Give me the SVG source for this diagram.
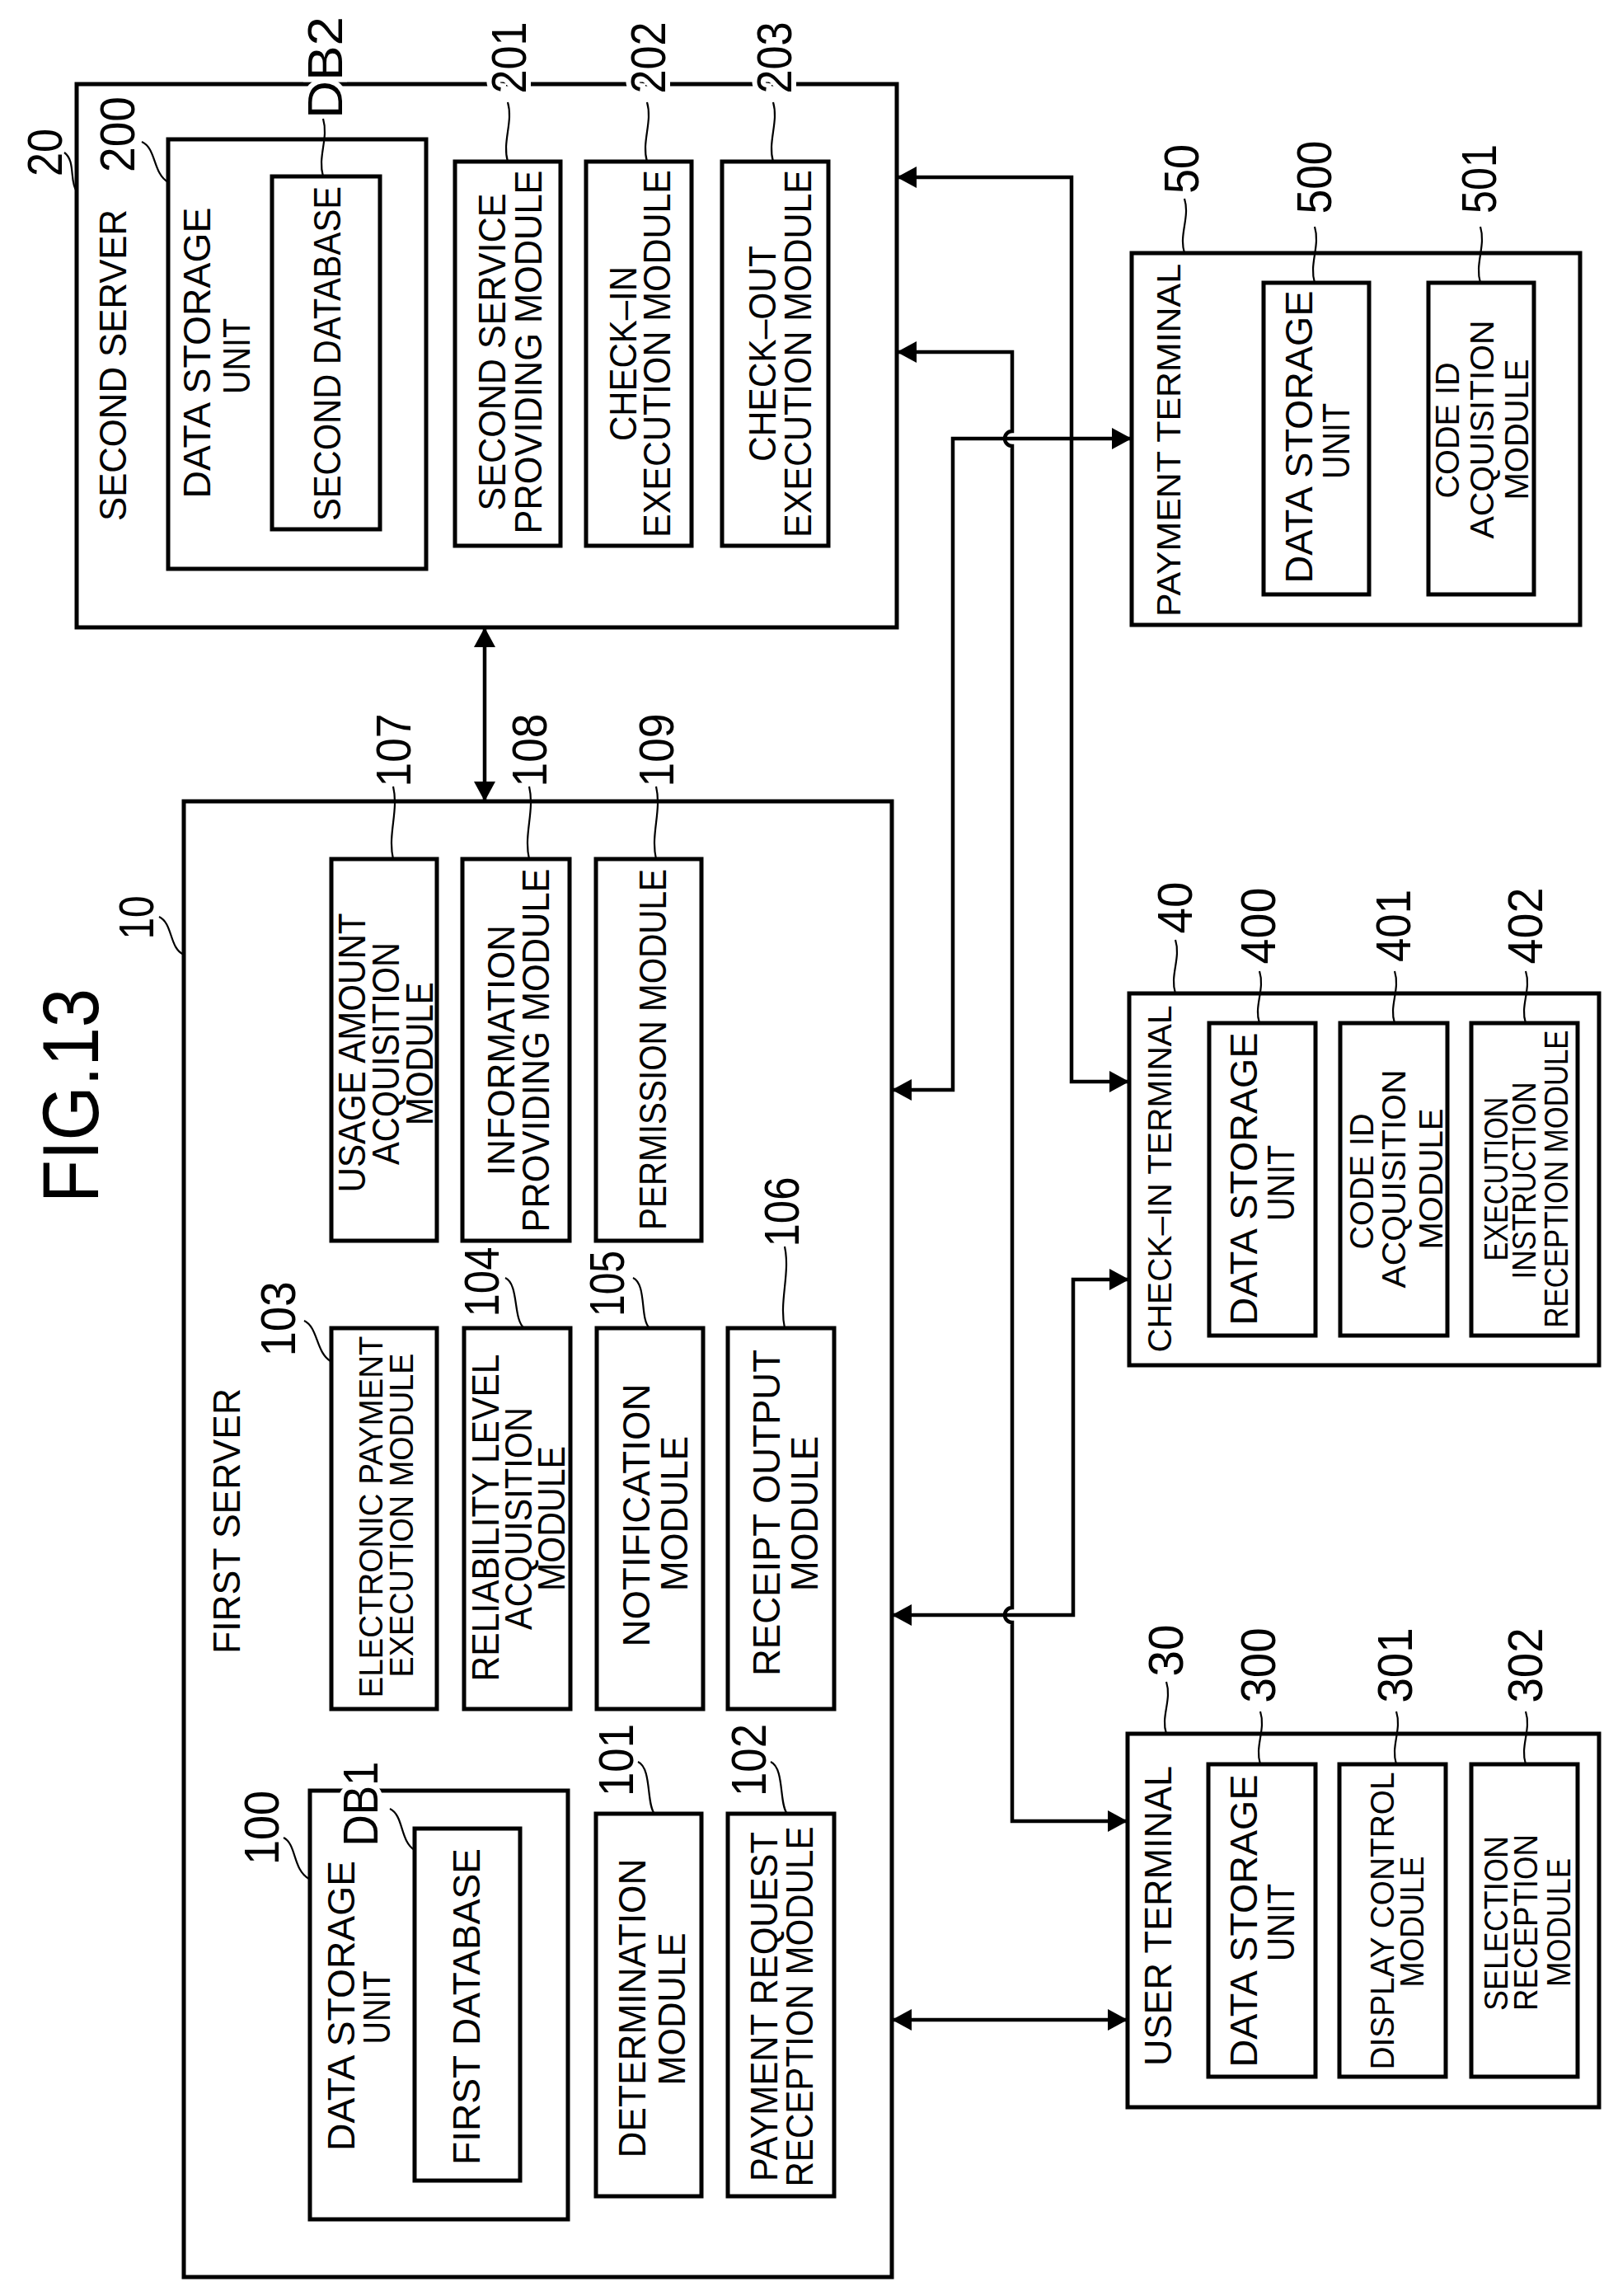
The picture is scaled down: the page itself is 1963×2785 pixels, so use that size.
<svg xmlns="http://www.w3.org/2000/svg" width="1963" height="2785" viewBox="0 0 1963 2785">
<style>
.b{fill:none;stroke:#000;stroke-width:5}
.c{fill:none;stroke:#000;stroke-width:4.5}
.l{fill:none;stroke:#000;stroke-width:2.2}
text{font-family:"Liberation Sans",Arial,sans-serif;fill:#000;text-anchor:middle}
.t{font-size:46px}
.s{font-size:40px}
.n{font-size:60px}
.g{stroke:#fff;stroke-width:12;paint-order:stroke}
</style>
<defs>
<marker id="a" markerUnits="userSpaceOnUse" markerWidth="26" markerHeight="26" refX="24" refY="13" orient="auto-start-reverse"><path d="M0,0 L24,13 L0,26 Z" fill="#000"/></marker>
</defs>
<rect width="1963" height="2785" fill="#fff"/>
<text transform="translate(119,1329) rotate(-90)" style="font-size:96px" textLength="260" lengthAdjust="spacingAndGlyphs">FIG.13</text>

<g id="second-server">
<rect class="b" x="93" y="102" width="995" height="659"/>
<rect class="b" x="204" y="169" width="313" height="521"/>
<rect class="b" x="330" y="214" width="131" height="428"/>
<rect class="b" x="552" y="196" width="128" height="466"/>
<rect class="b" x="711" y="196" width="128" height="466"/>
<rect class="b" x="876" y="196" width="129" height="466"/>
<text class="t" transform="translate(153,443) rotate(-90)" textLength="378" lengthAdjust="spacingAndGlyphs">SECOND SERVER</text>
<text class="t" transform="translate(255,428) rotate(-90)" textLength="353" lengthAdjust="spacingAndGlyphs">DATA STORAGE</text>
<text class="t" transform="translate(303,432) rotate(-90)" textLength="92" lengthAdjust="spacingAndGlyphs">UNIT</text>
<text class="t" transform="translate(413,429) rotate(-90)" textLength="406" lengthAdjust="spacingAndGlyphs">SECOND DATABASE</text>
<text class="t" transform="translate(613,427) rotate(-90)" textLength="385" lengthAdjust="spacingAndGlyphs">SECOND SERVICE</text>
<text class="t" transform="translate(657,427) rotate(-90)" textLength="441" lengthAdjust="spacingAndGlyphs">PROVIDING MODULE</text>
<text class="t" transform="translate(772,429) rotate(-90)" textLength="212" lengthAdjust="spacingAndGlyphs">CHECK–IN</text>
<text class="t" transform="translate(813,429) rotate(-90)" textLength="446" lengthAdjust="spacingAndGlyphs">EXECUTION MODULE</text>
<text class="t" transform="translate(941,429) rotate(-90)" textLength="262" lengthAdjust="spacingAndGlyphs">CHECK–OUT</text>
<text class="t" transform="translate(984,429) rotate(-90)" textLength="446" lengthAdjust="spacingAndGlyphs">EXECUTION MODULE</text>
<text class="n" transform="translate(75,185) rotate(-90)" textLength="58" lengthAdjust="spacingAndGlyphs">20</text>
<text class="n" transform="translate(163,163) rotate(-90)" textLength="92" lengthAdjust="spacingAndGlyphs">200</text>
<text class="n g" transform="translate(415,82) rotate(-90)" textLength="124" lengthAdjust="spacingAndGlyphs">DB2</text>
<text class="n g" transform="translate(638,70) rotate(-90)" textLength="87" lengthAdjust="spacingAndGlyphs">201</text>
<text class="n g" transform="translate(807,70) rotate(-90)" textLength="87" lengthAdjust="spacingAndGlyphs">202</text>
<text class="n g" transform="translate(960,70) rotate(-90)" textLength="87" lengthAdjust="spacingAndGlyphs">203</text>
<path class="l" d="M78,185 C92,195 84,220 93,232"/>
<path class="l" d="M172,172 C190,180 185,210 204,221"/>
<path class="l" d="M392,144 C399,168 385,190 392,214"/>
<path class="l" d="M616,124 C623,148 609,172 616,196"/>
<path class="l" d="M785,124 C792,148 778,172 785,196"/>
<path class="l" d="M938,124 C945,148 931,172 938,196"/>
</g>

<g id="payment-terminal">
<rect class="b" x="1373" y="307" width="544" height="451"/>
<rect class="b" x="1533" y="343" width="128" height="378"/>
<rect class="b" x="1733" y="343" width="128" height="378"/>
<text class="s" transform="translate(1432,534) rotate(-90)" textLength="428" lengthAdjust="spacingAndGlyphs">PAYMENT TERMINAL</text>
<text class="t" transform="translate(1592,530) rotate(-90)" textLength="355" lengthAdjust="spacingAndGlyphs">DATA STORAGE</text>
<text class="t" transform="translate(1637,535) rotate(-90)" textLength="92" lengthAdjust="spacingAndGlyphs">UNIT</text>
<text class="s" transform="translate(1770,522) rotate(-90)" textLength="165" lengthAdjust="spacingAndGlyphs">CODE ID</text>
<text class="s" transform="translate(1812,521) rotate(-90)" textLength="265" lengthAdjust="spacingAndGlyphs">ACQUISITION</text>
<text class="s" transform="translate(1854,521) rotate(-90)" textLength="171" lengthAdjust="spacingAndGlyphs">MODULE</text>
<text class="n" transform="translate(1454,205) rotate(-90)" textLength="60" lengthAdjust="spacingAndGlyphs">50</text>
<text class="n" transform="translate(1615,215) rotate(-90)" textLength="89" lengthAdjust="spacingAndGlyphs">500</text>
<text class="n" transform="translate(1815,217) rotate(-90)" textLength="84" lengthAdjust="spacingAndGlyphs">501</text>
<path class="l" d="M1437,241 C1444,264 1430,284 1437,307"/>
<path class="l" d="M1595,275 C1602,298 1588,320 1595,343"/>
<path class="l" d="M1796,275 C1803,298 1789,320 1796,343"/>
</g>

<g id="first-server">
<rect class="b" x="223" y="972" width="859" height="1790"/>
<rect class="b" x="402" y="1042" width="128" height="463"/>
<rect class="b" x="561" y="1042" width="130" height="463"/>
<rect class="b" x="723" y="1042" width="128" height="463"/>
<rect class="b" x="402" y="1611" width="128" height="462"/>
<rect class="b" x="563" y="1611" width="129" height="462"/>
<rect class="b" x="724" y="1611" width="129" height="462"/>
<rect class="b" x="883" y="1611" width="129" height="462"/>
<rect class="b" x="376" y="2172" width="313" height="520"/>
<rect class="b" x="503" y="2218" width="128" height="427"/>
<rect class="b" x="723" y="2200" width="128" height="464"/>
<rect class="b" x="883" y="2200" width="129" height="464"/>
<text class="t" transform="translate(443,1277) rotate(-90)" textLength="339" lengthAdjust="spacingAndGlyphs">USAGE AMOUNT</text>
<text class="t" transform="translate(484,1278) rotate(-90)" textLength="270" lengthAdjust="spacingAndGlyphs">ACQUISITION</text>
<text class="t" transform="translate(525,1278) rotate(-90)" textLength="174" lengthAdjust="spacingAndGlyphs">MODULE</text>
<text class="t" transform="translate(624,1274) rotate(-90)" textLength="304" lengthAdjust="spacingAndGlyphs">INFORMATION</text>
<text class="t" transform="translate(666,1274) rotate(-90)" textLength="441" lengthAdjust="spacingAndGlyphs">PROVIDING MODULE</text>
<text class="t" transform="translate(808,1273) rotate(-90)" textLength="438" lengthAdjust="spacingAndGlyphs">PERMISSION MODULE</text>
<text class="t" transform="translate(291,1845) rotate(-90)" textLength="322" lengthAdjust="spacingAndGlyphs">FIRST SERVER</text>
<text class="s" transform="translate(464,1840) rotate(-90)" textLength="439" lengthAdjust="spacingAndGlyphs">ELECTRONIC PAYMENT</text>
<text class="s" transform="translate(501,1838) rotate(-90)" textLength="393" lengthAdjust="spacingAndGlyphs">EXECUTION MODULE</text>
<text class="t" transform="translate(605,1841) rotate(-90)" textLength="397" lengthAdjust="spacingAndGlyphs">RELIABILITY LEVEL</text>
<text class="t" transform="translate(645,1842) rotate(-90)" textLength="270" lengthAdjust="spacingAndGlyphs">ACQUISITION</text>
<text class="t" transform="translate(685,1842) rotate(-90)" textLength="176" lengthAdjust="spacingAndGlyphs">MODULE</text>
<text class="t" transform="translate(788,1838) rotate(-90)" textLength="319" lengthAdjust="spacingAndGlyphs">NOTIFICATION</text>
<text class="t" transform="translate(834,1836) rotate(-90)" textLength="188" lengthAdjust="spacingAndGlyphs">MODULE</text>
<text class="t" transform="translate(946,1835) rotate(-90)" textLength="396" lengthAdjust="spacingAndGlyphs">RECEIPT OUTPUT</text>
<text class="t" transform="translate(992,1836) rotate(-90)" textLength="188" lengthAdjust="spacingAndGlyphs">MODULE</text>
<text class="t" transform="translate(430,2433) rotate(-90)" textLength="352" lengthAdjust="spacingAndGlyphs">DATA STORAGE</text>
<text class="t" transform="translate(473,2435) rotate(-90)" textLength="89" lengthAdjust="spacingAndGlyphs">UNIT</text>
<text class="t" transform="translate(582,2434) rotate(-90)" textLength="384" lengthAdjust="spacingAndGlyphs">FIRST DATABASE</text>
<text class="t" transform="translate(783,2436) rotate(-90)" textLength="363" lengthAdjust="spacingAndGlyphs">DETERMINATION</text>
<text class="t" transform="translate(831,2437) rotate(-90)" textLength="185" lengthAdjust="spacingAndGlyphs">MODULE</text>
<text class="t" transform="translate(943,2434) rotate(-90)" textLength="424" lengthAdjust="spacingAndGlyphs">PAYMENT REQUEST</text>
<text class="t" transform="translate(986,2434) rotate(-90)" textLength="437" lengthAdjust="spacingAndGlyphs">RECEPTION MODULE</text>
<text class="n" transform="translate(498,910) rotate(-90)" textLength="89" lengthAdjust="spacingAndGlyphs">107</text>
<text class="n" transform="translate(663,910) rotate(-90)" textLength="89" lengthAdjust="spacingAndGlyphs">108</text>
<text class="n" transform="translate(817,910) rotate(-90)" textLength="89" lengthAdjust="spacingAndGlyphs">109</text>
<text class="n" transform="translate(186,1113) rotate(-90)" textLength="53" lengthAdjust="spacingAndGlyphs">10</text>
<text class="n" transform="translate(358,1600) rotate(-90)" textLength="91" lengthAdjust="spacingAndGlyphs">103</text>
<text class="n" transform="translate(605,1555) rotate(-90)" textLength="85" lengthAdjust="spacingAndGlyphs">104</text>
<text class="n" transform="translate(757,1557) rotate(-90)" textLength="80" lengthAdjust="spacingAndGlyphs">105</text>
<text class="n" transform="translate(969,1470) rotate(-90)" textLength="85" lengthAdjust="spacingAndGlyphs">106</text>
<text class="n" transform="translate(338,2217) rotate(-90)" textLength="90" lengthAdjust="spacingAndGlyphs">100</text>
<text class="n g" transform="translate(458,2188) rotate(-90)" textLength="103" lengthAdjust="spacingAndGlyphs">DB1</text>
<text class="n" transform="translate(768,2135) rotate(-90)" textLength="88" lengthAdjust="spacingAndGlyphs">101</text>
<text class="n" transform="translate(929,2135) rotate(-90)" textLength="88" lengthAdjust="spacingAndGlyphs">102</text>
<path class="l" d="M477,954 C484,984 470,1012 477,1042"/>
<path class="l" d="M642,954 C649,984 635,1012 642,1042"/>
<path class="l" d="M796,954 C803,984 789,1012 796,1042"/>
<path class="l" d="M193,1112 C210,1120 205,1150 223,1158"/>
<path class="l" d="M369,1602 C386,1610 383,1640 401,1651"/>
<path class="l" d="M613,1550 C630,1558 622,1600 636,1611"/>
<path class="l" d="M768,1550 C785,1558 776,1600 788,1611"/>
<path class="l" d="M952,1512 C959,1545 945,1578 952,1611"/>
<path class="l" d="M344,2229 C360,2237 355,2268 375,2279"/>
<path class="l" d="M473,2194 C490,2202 485,2233 503,2244"/>
<path class="l" d="M774,2137 C791,2145 784,2188 794,2200"/>
<path class="l" d="M935,2137 C952,2145 945,2188 955,2200"/>
</g>

<g id="check-in-terminal">
<rect class="b" x="1370" y="1205" width="570" height="451"/>
<rect class="b" x="1467" y="1241" width="129" height="379"/>
<rect class="b" x="1626" y="1241" width="130" height="379"/>
<rect class="b" x="1785" y="1241" width="129" height="379"/>
<text class="s" transform="translate(1421,1430) rotate(-90)" textLength="421" lengthAdjust="spacingAndGlyphs">CHECK–IN TERMINAL</text>
<text class="t" transform="translate(1525,1430) rotate(-90)" textLength="355" lengthAdjust="spacingAndGlyphs">DATA STORAGE</text>
<text class="t" transform="translate(1570,1435) rotate(-90)" textLength="92" lengthAdjust="spacingAndGlyphs">UNIT</text>
<text class="s" transform="translate(1666,1433) rotate(-90)" textLength="165" lengthAdjust="spacingAndGlyphs">CODE ID</text>
<text class="s" transform="translate(1705,1430) rotate(-90)" textLength="265" lengthAdjust="spacingAndGlyphs">ACQUISITION</text>
<text class="s" transform="translate(1750,1430) rotate(-90)" textLength="171" lengthAdjust="spacingAndGlyphs">MODULE</text>
<text class="s" transform="translate(1829,1430) rotate(-90)" textLength="199" lengthAdjust="spacingAndGlyphs">EXECUTION</text>
<text class="s" transform="translate(1863,1432) rotate(-90)" textLength="239" lengthAdjust="spacingAndGlyphs">INSTRUCTION</text>
<text class="s" transform="translate(1902,1430) rotate(-90)" textLength="361" lengthAdjust="spacingAndGlyphs">RECEPTION MODULE</text>
<text class="n" transform="translate(1446,1101) rotate(-90)" textLength="63" lengthAdjust="spacingAndGlyphs">40</text>
<text class="n" transform="translate(1547,1123) rotate(-90)" textLength="93" lengthAdjust="spacingAndGlyphs">400</text>
<text class="n" transform="translate(1711,1123) rotate(-90)" textLength="88" lengthAdjust="spacingAndGlyphs">401</text>
<text class="n" transform="translate(1871,1123) rotate(-90)" textLength="93" lengthAdjust="spacingAndGlyphs">402</text>
<path class="l" d="M1426,1140 C1433,1162 1419,1183 1426,1205"/>
<path class="l" d="M1528,1178 C1535,1200 1521,1220 1528,1241"/>
<path class="l" d="M1692,1178 C1699,1200 1685,1220 1692,1241"/>
<path class="l" d="M1851,1178 C1858,1200 1844,1220 1851,1241"/>
</g>

<g id="user-terminal">
<rect class="b" x="1368" y="2103" width="572" height="453"/>
<rect class="b" x="1466" y="2140" width="130" height="379"/>
<rect class="b" x="1625" y="2140" width="129" height="379"/>
<rect class="b" x="1785" y="2140" width="129" height="379"/>
<text class="t" transform="translate(1421,2324) rotate(-90)" textLength="364" lengthAdjust="spacingAndGlyphs">USER TERMINAL</text>
<text class="t" transform="translate(1525,2330) rotate(-90)" textLength="355" lengthAdjust="spacingAndGlyphs">DATA STORAGE</text>
<text class="t" transform="translate(1570,2332) rotate(-90)" textLength="94" lengthAdjust="spacingAndGlyphs">UNIT</text>
<text class="s" transform="translate(1691,2330) rotate(-90)" textLength="361" lengthAdjust="spacingAndGlyphs">DISPLAY CONTROL</text>
<text class="s" transform="translate(1727,2331) rotate(-90)" textLength="159" lengthAdjust="spacingAndGlyphs">MODULE</text>
<text class="s" transform="translate(1829,2333) rotate(-90)" textLength="212" lengthAdjust="spacingAndGlyphs">SELECTION</text>
<text class="s" transform="translate(1865,2332) rotate(-90)" textLength="214" lengthAdjust="spacingAndGlyphs">RECEPTION</text>
<text class="s" transform="translate(1905,2332) rotate(-90)" textLength="156" lengthAdjust="spacingAndGlyphs">MODULE</text>
<text class="n" transform="translate(1435,2002) rotate(-90)" textLength="63" lengthAdjust="spacingAndGlyphs">30</text>
<text class="n" transform="translate(1547,2020) rotate(-90)" textLength="91" lengthAdjust="spacingAndGlyphs">300</text>
<text class="n" transform="translate(1713,2020) rotate(-90)" textLength="91" lengthAdjust="spacingAndGlyphs">301</text>
<text class="n" transform="translate(1871,2020) rotate(-90)" textLength="91" lengthAdjust="spacingAndGlyphs">302</text>
<path class="l" d="M1415,2040 C1422,2062 1408,2082 1415,2103"/>
<path class="l" d="M1529,2076 C1536,2098 1522,2118 1529,2140"/>
<path class="l" d="M1694,2076 C1701,2098 1687,2118 1694,2140"/>
<path class="l" d="M1851,2076 C1858,2098 1844,2118 1851,2140"/>
</g>

<g id="connectors">
<path class="c" d="M588,761 V972" marker-start="url(#a)" marker-end="url(#a)"/>
<path class="c" d="M1088,215 H1300 V1312 H1370" marker-start="url(#a)" marker-end="url(#a)"/>
<path class="c" d="M1088,427 H1228 V523 A9,9 0 0 0 1228,541 V1950 A9,9 0 0 0 1228,1968 V2209 H1368" marker-start="url(#a)" marker-end="url(#a)"/>
<path class="c" d="M1082,1322 H1156 V532 H1373" marker-start="url(#a)" marker-end="url(#a)"/>
<path class="c" d="M1082,1959 H1302 V1552 H1370" marker-start="url(#a)" marker-end="url(#a)"/>
<path class="c" d="M1082,2450 H1368" marker-start="url(#a)" marker-end="url(#a)"/>
</g>
</svg>
